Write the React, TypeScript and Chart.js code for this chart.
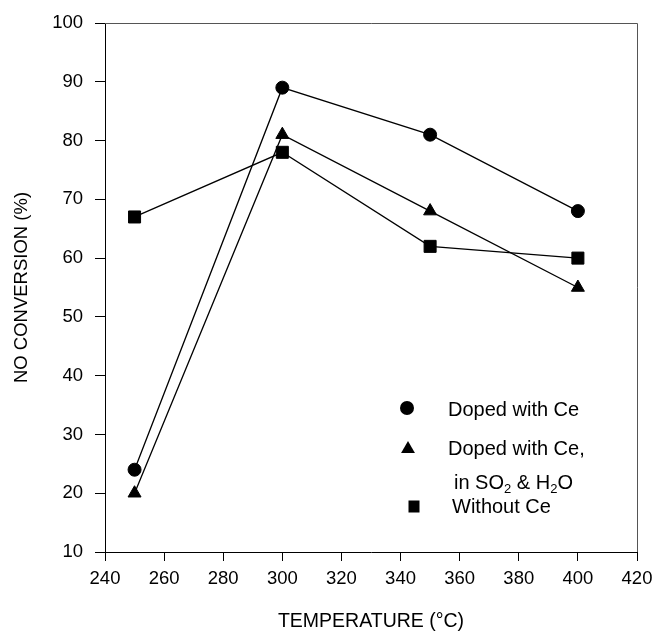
import React, { useEffect, useRef } from "react";
import { Chart, registerables } from "chart.js";

Chart.register(...registerables);

const temperatures = [250, 300, 350, 400];
const dopedWithCe = [24, 89, 81, 68];
const dopedWithCeSO2H2O = [20, 81, 68, 55];
const withoutCe = [67, 78, 62, 60];

const xTitle = "TEMPERATURE (°C)";
const yTitle = "NO CONVERSION (%)";
const xRange = [240, 420];
const yRange = [10, 100];

const legendCircle = "Doped with Ce";
const legendTriangle1 = "Doped with Ce,";
const legendTriangle2: [string, boolean][] = [
  ["in SO", false],
  ["2", true],
  [" & H", false],
  ["2", true],
  ["O", false],
];
const legendSquare = "Without Ce";

const FONT = "'Liberation Sans', Arial, sans-serif";

const framePlugin = {
  id: "frame",
  afterDraw(chart: any) {
    const { ctx, chartArea } = chart;
    ctx.save();
    ctx.strokeStyle = "#555";
    ctx.lineWidth = 1;
    ctx.beginPath();
    ctx.moveTo(chartArea.left, Math.round(chartArea.top) + 0.5);
    ctx.lineTo(Math.round(chartArea.right) + 0.5, Math.round(chartArea.top) + 0.5);
    ctx.lineTo(Math.round(chartArea.right) + 0.5, chartArea.bottom);
    ctx.stroke();
    ctx.restore();
  },
};

const legendPlugin = {
  id: "customLegend",
  afterDraw(chart: any) {
    const { ctx } = chart;
    ctx.save();
    ctx.fillStyle = "#000";
    ctx.beginPath();
    ctx.arc(407, 408, 7, 0, Math.PI * 2);
    ctx.fill();
    const tr = 8;
    ctx.beginPath();
    for (let k = 0; k < 3; k++) {
      const a = (k * 2 * Math.PI) / 3;
      const px = 408 + Math.sin(a) * tr;
      const py = 449 - Math.cos(a) * tr;
      if (k === 0) ctx.moveTo(px, py);
      else ctx.lineTo(px, py);
    }
    ctx.closePath();
    ctx.fill();
    ctx.fillRect(408.5, 500.5, 11, 12);

    ctx.font = `20px ${FONT}`;
    ctx.textBaseline = "middle";
    ctx.textAlign = "left";
    ctx.fillText(legendCircle, 448, 410);
    ctx.fillText(legendTriangle1, 448, 449);
    let x = 454;
    for (const [txt, sub] of legendTriangle2) {
      if (sub) {
        ctx.font = `13px ${FONT}`;
        ctx.fillText(txt, x, 489);
      } else {
        ctx.font = `20px ${FONT}`;
        ctx.fillText(txt, x, 483);
      }
      x += ctx.measureText(txt).width;
    }
    ctx.font = `20px ${FONT}`;
    ctx.fillText(legendSquare, 452, 507);
    ctx.restore();
  },
};

function makePoints(vals: number[]) {
  return temperatures.map((t, i) => ({ x: t, y: vals[i] }));
}

export default function App() {
  const ref = useRef<HTMLCanvasElement | null>(null);
  useEffect(() => {
    document.body.style.margin = "0";
    if (!ref.current) return;
    const common = {
      borderColor: "#000",
      backgroundColor: "#000",
      borderWidth: 1.3,
      pointBackgroundColor: "#000",
      pointBorderColor: "#000",
      pointBorderWidth: 1,
      showLine: true,
      tension: 0,
    };
    const chart = new Chart(ref.current, {
      type: "scatter",
      data: {
        datasets: [
          { ...common, label: legendCircle, data: makePoints(dopedWithCe), pointStyle: "circle", pointRadius: 6.5 },
          { ...common, label: legendTriangle1, data: makePoints(dopedWithCeSO2H2O), pointStyle: "triangle", pointRadius: 7.5 },
          { ...common, label: legendSquare, data: makePoints(withoutCe), pointStyle: "rect", pointRadius: 8.5 },
        ],
      },
      options: {
        animation: false,
        responsive: true,
        maintainAspectRatio: false,
        layout: { padding: { top: 23, right: 19, left: 0, bottom: 0 } },
        plugins: { legend: { display: false }, tooltip: { enabled: false } },
        scales: {
          x: {
            type: "linear",
            min: xRange[0],
            max: xRange[1],
            ticks: { stepSize: 20, color: "#000", padding: 7, font: { family: FONT, size: 18.5 }, maxRotation: 0 },
            grid: { drawOnChartArea: false, drawTicks: true, tickLength: 9, color: "#000" },
            border: { display: true, color: "#000", width: 1 },
            title: {
              display: true,
              text: xTitle,
              color: "#000",
              font: { family: FONT, size: 19.5, lineHeight: 1 },
              padding: { top: 0, bottom: 0 },
            },
            afterFit(scale: any) {
              scale.height = 79;
              scale.paddingLeft = 0;
              scale.paddingRight = 0;
            },
          },
          y: {
            type: "linear",
            min: yRange[0],
            max: yRange[1],
            ticks: { stepSize: 10, color: "#000", padding: 12, font: { family: FONT, size: 18.5 } },
            grid: { drawOnChartArea: false, drawTicks: true, tickLength: 10, color: "#000" },
            border: { display: true, color: "#000", width: 1 },
            title: {
              display: true,
              text: yTitle,
              color: "#000",
              font: { family: FONT, size: 18.5 },
              padding: { top: 11, bottom: 0 },
            },
            afterFit(scale: any) {
              scale.width = 105;
              scale.paddingTop = 0;
              scale.paddingBottom = 0;
            },
          },
        },
      },
      plugins: [framePlugin, legendPlugin],
    } as any);
    return () => chart.destroy();
  }, []);
  return (
    <div style={{ width: 656, height: 631, position: "relative", background: "#fff" }}>
      <canvas ref={ref} />
    </div>
  );
}
